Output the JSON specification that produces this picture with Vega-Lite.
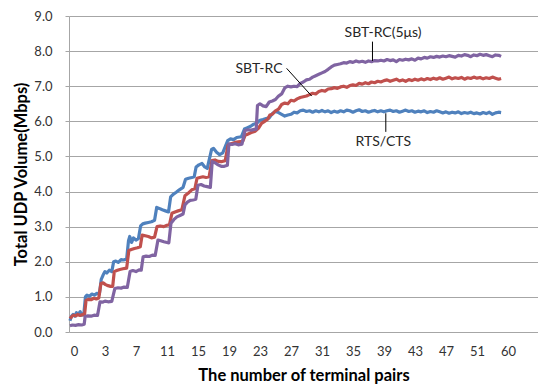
{
  "$schema": "https://vega.github.io/schema/vega-lite/v6.json",
  "width": 469,
  "height": 316,
  "autosize": {"type": "none"},
  "padding": {"left": 69, "top": 16, "right": 0, "bottom": 56},
  "background": "white",
  "config": {"view": {"stroke": null}, "font": "Lato"},
  "datasets": {
    "series": [
      {"s":"RTS/CTS","x":-0.13,"y":0.32},{"s":"RTS/CTS","x":-0.08,"y":0.45},{"s":"RTS/CTS","x":-0.03,"y":0.5},{"s":"RTS/CTS","x":0.03,"y":0.45},{"s":"RTS/CTS","x":0.08,"y":0.55},{"s":"RTS/CTS","x":0.14,"y":0.5},{"s":"RTS/CTS","x":0.2,"y":0.58},{"s":"RTS/CTS","x":0.26,"y":0.48},{"s":"RTS/CTS","x":0.32,"y":0.52},
      {"s":"RTS/CTS","x":0.37,"y":1.0},{"s":"RTS/CTS","x":0.42,"y":1.05},{"s":"RTS/CTS","x":0.5,"y":1.02},{"s":"RTS/CTS","x":0.58,"y":1.08},{"s":"RTS/CTS","x":0.66,"y":1.05},{"s":"RTS/CTS","x":0.74,"y":1.1},{"s":"RTS/CTS","x":0.82,"y":1.08},
      {"s":"RTS/CTS","x":0.88,"y":1.5},{"s":"RTS/CTS","x":0.94,"y":1.62},{"s":"RTS/CTS","x":1.0,"y":1.72},{"s":"RTS/CTS","x":1.06,"y":1.68},{"s":"RTS/CTS","x":1.14,"y":1.76},{"s":"RTS/CTS","x":1.22,"y":1.72},
      {"s":"RTS/CTS","x":1.28,"y":2.0},{"s":"RTS/CTS","x":1.35,"y":2.02},{"s":"RTS/CTS","x":1.43,"y":1.98},{"s":"RTS/CTS","x":1.52,"y":2.06},{"s":"RTS/CTS","x":1.6,"y":2.05},{"s":"RTS/CTS","x":1.7,"y":2.08},
      {"s":"RTS/CTS","x":1.76,"y":2.6},{"s":"RTS/CTS","x":1.8,"y":2.72},{"s":"RTS/CTS","x":1.86,"y":2.55},{"s":"RTS/CTS","x":1.92,"y":2.68},{"s":"RTS/CTS","x":2.0,"y":2.62},{"s":"RTS/CTS","x":2.08,"y":2.66},
      {"s":"RTS/CTS","x":2.15,"y":3.02},{"s":"RTS/CTS","x":2.22,"y":3.08},{"s":"RTS/CTS","x":2.3,"y":3.1},{"s":"RTS/CTS","x":2.4,"y":3.12},{"s":"RTS/CTS","x":2.5,"y":3.14},{"s":"RTS/CTS","x":2.6,"y":3.18},
      {"s":"RTS/CTS","x":2.67,"y":3.55},{"s":"RTS/CTS","x":2.75,"y":3.52},{"s":"RTS/CTS","x":2.85,"y":3.48},{"s":"RTS/CTS","x":2.95,"y":3.45},{"s":"RTS/CTS","x":3.05,"y":3.42},
      {"s":"RTS/CTS","x":3.12,"y":3.85},{"s":"RTS/CTS","x":3.2,"y":3.92},{"s":"RTS/CTS","x":3.3,"y":3.98},{"s":"RTS/CTS","x":3.4,"y":4.05},{"s":"RTS/CTS","x":3.52,"y":4.12},
      {"s":"RTS/CTS","x":3.6,"y":4.35},{"s":"RTS/CTS","x":3.7,"y":4.38},{"s":"RTS/CTS","x":3.8,"y":4.4},{"s":"RTS/CTS","x":3.88,"y":4.42},
      {"s":"RTS/CTS","x":3.94,"y":4.7},{"s":"RTS/CTS","x":4.03,"y":4.76},{"s":"RTS/CTS","x":4.13,"y":4.8},{"s":"RTS/CTS","x":4.22,"y":4.7},{"s":"RTS/CTS","x":4.3,"y":4.66},
      {"s":"RTS/CTS","x":4.44,"y":5.2},{"s":"RTS/CTS","x":4.5,"y":5.23},{"s":"RTS/CTS","x":4.6,"y":5.12},{"s":"RTS/CTS","x":4.7,"y":5.05},{"s":"RTS/CTS","x":4.8,"y":5.1},
      {"s":"RTS/CTS","x":4.96,"y":5.45},{"s":"RTS/CTS","x":5.05,"y":5.5},{"s":"RTS/CTS","x":5.15,"y":5.48},{"s":"RTS/CTS","x":5.25,"y":5.54},{"s":"RTS/CTS","x":5.4,"y":5.56},
      {"s":"RTS/CTS","x":5.5,"y":5.78},{"s":"RTS/CTS","x":5.6,"y":5.82},{"s":"RTS/CTS","x":5.7,"y":5.86},{"s":"RTS/CTS","x":5.8,"y":5.92},{"s":"RTS/CTS","x":5.9,"y":5.95},
      {"s":"RTS/CTS","x":6.0,"y":6.03},{"s":"RTS/CTS","x":6.1,"y":6.05},{"s":"RTS/CTS","x":6.2,"y":6.08},{"s":"RTS/CTS","x":6.3,"y":6.1},{"s":"RTS/CTS","x":6.4,"y":6.22},{"s":"RTS/CTS","x":6.5,"y":6.28},{"s":"RTS/CTS","x":6.6,"y":6.25},{"s":"RTS/CTS","x":6.7,"y":6.2},{"s":"RTS/CTS","x":6.8,"y":6.15},{"s":"RTS/CTS","x":6.9,"y":6.18},
      {"s":"RTS/CTS","x":7.0,"y":6.2},{"s":"RTS/CTS","x":7.1,"y":6.26},{"s":"RTS/CTS","x":7.2,"y":6.24},{"s":"RTS/CTS","x":7.3,"y":6.3},{"s":"RTS/CTS","x":7.4,"y":6.32},{"s":"RTS/CTS","x":7.5,"y":6.28},{"s":"RTS/CTS","x":7.6,"y":6.3},{"s":"RTS/CTS","x":7.7,"y":6.26},{"s":"RTS/CTS","x":7.8,"y":6.3},{"s":"RTS/CTS","x":7.9,"y":6.27},
      {"s":"RTS/CTS","x":8.0,"y":6.31},{"s":"RTS/CTS","x":8.1,"y":6.27},{"s":"RTS/CTS","x":8.2,"y":6.3},{"s":"RTS/CTS","x":8.3,"y":6.25},{"s":"RTS/CTS","x":8.4,"y":6.29},{"s":"RTS/CTS","x":8.5,"y":6.26},{"s":"RTS/CTS","x":8.6,"y":6.3},{"s":"RTS/CTS","x":8.7,"y":6.27},{"s":"RTS/CTS","x":8.8,"y":6.32},{"s":"RTS/CTS","x":8.9,"y":6.3},
      {"s":"RTS/CTS","x":9.0,"y":6.26},{"s":"RTS/CTS","x":9.1,"y":6.3},{"s":"RTS/CTS","x":9.2,"y":6.33},{"s":"RTS/CTS","x":9.3,"y":6.28},{"s":"RTS/CTS","x":9.4,"y":6.3},{"s":"RTS/CTS","x":9.5,"y":6.26},{"s":"RTS/CTS","x":9.6,"y":6.29},{"s":"RTS/CTS","x":9.7,"y":6.31},{"s":"RTS/CTS","x":9.8,"y":6.27},{"s":"RTS/CTS","x":9.9,"y":6.3},
      {"s":"RTS/CTS","x":10.0,"y":6.27},{"s":"RTS/CTS","x":10.1,"y":6.3},{"s":"RTS/CTS","x":10.2,"y":6.32},{"s":"RTS/CTS","x":10.3,"y":6.28},{"s":"RTS/CTS","x":10.4,"y":6.3},{"s":"RTS/CTS","x":10.5,"y":6.26},{"s":"RTS/CTS","x":10.6,"y":6.29},{"s":"RTS/CTS","x":10.7,"y":6.32},{"s":"RTS/CTS","x":10.8,"y":6.28},{"s":"RTS/CTS","x":10.9,"y":6.3},
      {"s":"RTS/CTS","x":11.0,"y":6.26},{"s":"RTS/CTS","x":11.1,"y":6.29},{"s":"RTS/CTS","x":11.2,"y":6.27},{"s":"RTS/CTS","x":11.3,"y":6.3},{"s":"RTS/CTS","x":11.4,"y":6.25},{"s":"RTS/CTS","x":11.5,"y":6.28},{"s":"RTS/CTS","x":11.6,"y":6.26},{"s":"RTS/CTS","x":11.7,"y":6.3},{"s":"RTS/CTS","x":11.8,"y":6.27},{"s":"RTS/CTS","x":11.9,"y":6.24},
      {"s":"RTS/CTS","x":12.0,"y":6.27},{"s":"RTS/CTS","x":12.1,"y":6.23},{"s":"RTS/CTS","x":12.2,"y":6.26},{"s":"RTS/CTS","x":12.3,"y":6.24},{"s":"RTS/CTS","x":12.4,"y":6.27},{"s":"RTS/CTS","x":12.5,"y":6.22},{"s":"RTS/CTS","x":12.6,"y":6.25},{"s":"RTS/CTS","x":12.7,"y":6.23},{"s":"RTS/CTS","x":12.8,"y":6.26},{"s":"RTS/CTS","x":12.9,"y":6.22},
      {"s":"RTS/CTS","x":13.0,"y":6.24},{"s":"RTS/CTS","x":13.1,"y":6.21},{"s":"RTS/CTS","x":13.2,"y":6.25},{"s":"RTS/CTS","x":13.3,"y":6.22},{"s":"RTS/CTS","x":13.4,"y":6.26},{"s":"RTS/CTS","x":13.5,"y":6.2},{"s":"RTS/CTS","x":13.6,"y":6.24},{"s":"RTS/CTS","x":13.7,"y":6.26},{"s":"RTS/CTS","x":13.78,"y":6.25},

      {"s":"SBT-RC","x":-0.13,"y":0.38},{"s":"SBT-RC","x":-0.06,"y":0.45},{"s":"SBT-RC","x":0.0,"y":0.48},{"s":"SBT-RC","x":0.06,"y":0.46},{"s":"SBT-RC","x":0.12,"y":0.5},{"s":"SBT-RC","x":0.2,"y":0.47},{"s":"SBT-RC","x":0.28,"y":0.5},{"s":"SBT-RC","x":0.34,"y":0.48},
      {"s":"SBT-RC","x":0.39,"y":0.9},{"s":"SBT-RC","x":0.46,"y":0.93},{"s":"SBT-RC","x":0.55,"y":0.92},{"s":"SBT-RC","x":0.64,"y":0.96},{"s":"SBT-RC","x":0.72,"y":0.94},{"s":"SBT-RC","x":0.8,"y":0.97},
      {"s":"SBT-RC","x":0.87,"y":1.38},{"s":"SBT-RC","x":0.94,"y":1.4},{"s":"SBT-RC","x":1.02,"y":1.35},{"s":"SBT-RC","x":1.1,"y":1.32},{"s":"SBT-RC","x":1.18,"y":1.3},{"s":"SBT-RC","x":1.25,"y":1.3},
      {"s":"SBT-RC","x":1.3,"y":1.72},{"s":"SBT-RC","x":1.38,"y":1.75},{"s":"SBT-RC","x":1.48,"y":1.78},{"s":"SBT-RC","x":1.58,"y":1.8},{"s":"SBT-RC","x":1.7,"y":1.82},
      {"s":"SBT-RC","x":1.77,"y":2.32},{"s":"SBT-RC","x":1.85,"y":2.35},{"s":"SBT-RC","x":1.95,"y":2.38},{"s":"SBT-RC","x":2.05,"y":2.4},{"s":"SBT-RC","x":2.14,"y":2.43},
      {"s":"SBT-RC","x":2.2,"y":2.76},{"s":"SBT-RC","x":2.3,"y":2.74},{"s":"SBT-RC","x":2.4,"y":2.72},{"s":"SBT-RC","x":2.5,"y":2.68},{"s":"SBT-RC","x":2.6,"y":2.7},
      {"s":"SBT-RC","x":2.68,"y":3.0},{"s":"SBT-RC","x":2.78,"y":3.02},{"s":"SBT-RC","x":2.9,"y":3.0},{"s":"SBT-RC","x":3.0,"y":3.04},{"s":"SBT-RC","x":3.08,"y":3.05},
      {"s":"SBT-RC","x":3.16,"y":3.38},{"s":"SBT-RC","x":3.26,"y":3.42},{"s":"SBT-RC","x":3.36,"y":3.45},{"s":"SBT-RC","x":3.48,"y":3.48},
      {"s":"SBT-RC","x":3.58,"y":3.88},{"s":"SBT-RC","x":3.68,"y":3.95},{"s":"SBT-RC","x":3.8,"y":4.05},{"s":"SBT-RC","x":3.9,"y":4.08},
      {"s":"SBT-RC","x":3.97,"y":4.38},{"s":"SBT-RC","x":4.06,"y":4.4},{"s":"SBT-RC","x":4.16,"y":4.42},{"s":"SBT-RC","x":4.26,"y":4.4},{"s":"SBT-RC","x":4.36,"y":4.42},
      {"s":"SBT-RC","x":4.45,"y":4.88},{"s":"SBT-RC","x":4.55,"y":4.9},{"s":"SBT-RC","x":4.65,"y":4.86},{"s":"SBT-RC","x":4.75,"y":4.85},{"s":"SBT-RC","x":4.88,"y":4.88},
      {"s":"SBT-RC","x":4.97,"y":5.32},{"s":"SBT-RC","x":5.07,"y":5.36},{"s":"SBT-RC","x":5.2,"y":5.4},{"s":"SBT-RC","x":5.35,"y":5.42},{"s":"SBT-RC","x":5.45,"y":5.44},
      {"s":"SBT-RC","x":5.52,"y":5.6},{"s":"SBT-RC","x":5.62,"y":5.64},{"s":"SBT-RC","x":5.72,"y":5.68},{"s":"SBT-RC","x":5.85,"y":5.72},{"s":"SBT-RC","x":5.95,"y":5.8},
      {"s":"SBT-RC","x":6.05,"y":5.94},{"s":"SBT-RC","x":6.15,"y":6.0},{"s":"SBT-RC","x":6.25,"y":6.06},{"s":"SBT-RC","x":6.32,"y":6.18},{"s":"SBT-RC","x":6.4,"y":6.2},{"s":"SBT-RC","x":6.5,"y":6.3},{"s":"SBT-RC","x":6.6,"y":6.35},{"s":"SBT-RC","x":6.7,"y":6.48},{"s":"SBT-RC","x":6.8,"y":6.52},{"s":"SBT-RC","x":6.9,"y":6.5},
      {"s":"SBT-RC","x":7.0,"y":6.6},{"s":"SBT-RC","x":7.1,"y":6.58},{"s":"SBT-RC","x":7.2,"y":6.64},{"s":"SBT-RC","x":7.3,"y":6.68},{"s":"SBT-RC","x":7.4,"y":6.7},{"s":"SBT-RC","x":7.5,"y":6.72},{"s":"SBT-RC","x":7.6,"y":6.76},{"s":"SBT-RC","x":7.7,"y":6.8},{"s":"SBT-RC","x":7.8,"y":6.78},{"s":"SBT-RC","x":7.9,"y":6.85},
      {"s":"SBT-RC","x":8.0,"y":6.88},{"s":"SBT-RC","x":8.1,"y":6.86},{"s":"SBT-RC","x":8.2,"y":6.92},{"s":"SBT-RC","x":8.3,"y":6.93},{"s":"SBT-RC","x":8.4,"y":6.96},{"s":"SBT-RC","x":8.5,"y":6.94},{"s":"SBT-RC","x":8.6,"y":6.98},{"s":"SBT-RC","x":8.7,"y":7.0},{"s":"SBT-RC","x":8.8,"y":6.97},{"s":"SBT-RC","x":8.9,"y":7.02},
      {"s":"SBT-RC","x":9.0,"y":7.04},{"s":"SBT-RC","x":9.1,"y":7.02},{"s":"SBT-RC","x":9.2,"y":7.08},{"s":"SBT-RC","x":9.3,"y":7.06},{"s":"SBT-RC","x":9.4,"y":7.1},{"s":"SBT-RC","x":9.5,"y":7.07},{"s":"SBT-RC","x":9.6,"y":7.12},{"s":"SBT-RC","x":9.7,"y":7.1},{"s":"SBT-RC","x":9.8,"y":7.14},{"s":"SBT-RC","x":9.9,"y":7.12},
      {"s":"SBT-RC","x":10.0,"y":7.16},{"s":"SBT-RC","x":10.1,"y":7.18},{"s":"SBT-RC","x":10.2,"y":7.14},{"s":"SBT-RC","x":10.3,"y":7.17},{"s":"SBT-RC","x":10.4,"y":7.2},{"s":"SBT-RC","x":10.5,"y":7.15},{"s":"SBT-RC","x":10.6,"y":7.18},{"s":"SBT-RC","x":10.7,"y":7.14},{"s":"SBT-RC","x":10.8,"y":7.19},{"s":"SBT-RC","x":10.9,"y":7.16},
      {"s":"SBT-RC","x":11.0,"y":7.2},{"s":"SBT-RC","x":11.1,"y":7.17},{"s":"SBT-RC","x":11.2,"y":7.21},{"s":"SBT-RC","x":11.3,"y":7.18},{"s":"SBT-RC","x":11.4,"y":7.22},{"s":"SBT-RC","x":11.5,"y":7.19},{"s":"SBT-RC","x":11.6,"y":7.23},{"s":"SBT-RC","x":11.7,"y":7.2},{"s":"SBT-RC","x":11.8,"y":7.24},{"s":"SBT-RC","x":11.9,"y":7.2},
      {"s":"SBT-RC","x":12.0,"y":7.23},{"s":"SBT-RC","x":12.1,"y":7.26},{"s":"SBT-RC","x":12.2,"y":7.21},{"s":"SBT-RC","x":12.3,"y":7.24},{"s":"SBT-RC","x":12.4,"y":7.22},{"s":"SBT-RC","x":12.5,"y":7.25},{"s":"SBT-RC","x":12.6,"y":7.2},{"s":"SBT-RC","x":12.7,"y":7.24},{"s":"SBT-RC","x":12.8,"y":7.22},{"s":"SBT-RC","x":12.9,"y":7.26},
      {"s":"SBT-RC","x":13.0,"y":7.23},{"s":"SBT-RC","x":13.1,"y":7.25},{"s":"SBT-RC","x":13.2,"y":7.21},{"s":"SBT-RC","x":13.3,"y":7.24},{"s":"SBT-RC","x":13.4,"y":7.22},{"s":"SBT-RC","x":13.5,"y":7.26},{"s":"SBT-RC","x":13.6,"y":7.23},{"s":"SBT-RC","x":13.7,"y":7.2},{"s":"SBT-RC","x":13.78,"y":7.22},

      {"s":"SBT-RC(5μs)","x":-0.13,"y":0.18},{"s":"SBT-RC(5μs)","x":-0.05,"y":0.2},{"s":"SBT-RC(5μs)","x":0.05,"y":0.19},{"s":"SBT-RC(5μs)","x":0.15,"y":0.21},{"s":"SBT-RC(5μs)","x":0.25,"y":0.2},{"s":"SBT-RC(5μs)","x":0.33,"y":0.22},
      {"s":"SBT-RC(5μs)","x":0.36,"y":0.44},{"s":"SBT-RC(5μs)","x":0.45,"y":0.46},{"s":"SBT-RC(5μs)","x":0.55,"y":0.45},{"s":"SBT-RC(5μs)","x":0.65,"y":0.48},{"s":"SBT-RC(5μs)","x":0.76,"y":0.47},
      {"s":"SBT-RC(5μs)","x":0.84,"y":0.86},{"s":"SBT-RC(5μs)","x":0.92,"y":0.85},{"s":"SBT-RC(5μs)","x":1.0,"y":0.88},{"s":"SBT-RC(5μs)","x":1.1,"y":0.86},{"s":"SBT-RC(5μs)","x":1.22,"y":0.87},
      {"s":"SBT-RC(5μs)","x":1.32,"y":1.24},{"s":"SBT-RC(5μs)","x":1.42,"y":1.26},{"s":"SBT-RC(5μs)","x":1.52,"y":1.25},{"s":"SBT-RC(5μs)","x":1.62,"y":1.28},{"s":"SBT-RC(5μs)","x":1.72,"y":1.27},
      {"s":"SBT-RC(5μs)","x":1.81,"y":1.72},{"s":"SBT-RC(5μs)","x":1.9,"y":1.75},{"s":"SBT-RC(5μs)","x":2.0,"y":1.72},{"s":"SBT-RC(5μs)","x":2.1,"y":1.77},{"s":"SBT-RC(5μs)","x":2.17,"y":1.76},
      {"s":"SBT-RC(5μs)","x":2.23,"y":2.14},{"s":"SBT-RC(5μs)","x":2.33,"y":2.16},{"s":"SBT-RC(5μs)","x":2.43,"y":2.15},{"s":"SBT-RC(5μs)","x":2.53,"y":2.19},{"s":"SBT-RC(5μs)","x":2.62,"y":2.18},
      {"s":"SBT-RC(5μs)","x":2.71,"y":2.62},{"s":"SBT-RC(5μs)","x":2.8,"y":2.6},{"s":"SBT-RC(5μs)","x":2.9,"y":2.57},{"s":"SBT-RC(5μs)","x":3.0,"y":2.55},{"s":"SBT-RC(5μs)","x":3.06,"y":2.54},
      {"s":"SBT-RC(5μs)","x":3.13,"y":3.1},{"s":"SBT-RC(5μs)","x":3.22,"y":3.2},{"s":"SBT-RC(5μs)","x":3.32,"y":3.28},{"s":"SBT-RC(5μs)","x":3.42,"y":3.32},{"s":"SBT-RC(5μs)","x":3.52,"y":3.36},
      {"s":"SBT-RC(5μs)","x":3.58,"y":3.62},{"s":"SBT-RC(5μs)","x":3.66,"y":3.7},{"s":"SBT-RC(5μs)","x":3.75,"y":3.75},{"s":"SBT-RC(5μs)","x":3.84,"y":3.76},{"s":"SBT-RC(5μs)","x":3.93,"y":3.78},
      {"s":"SBT-RC(5μs)","x":4.0,"y":4.18},{"s":"SBT-RC(5μs)","x":4.1,"y":4.2},{"s":"SBT-RC(5μs)","x":4.2,"y":4.16},{"s":"SBT-RC(5μs)","x":4.3,"y":4.14},{"s":"SBT-RC(5μs)","x":4.4,"y":4.12},
      {"s":"SBT-RC(5μs)","x":4.46,"y":4.85},{"s":"SBT-RC(5μs)","x":4.55,"y":4.82},{"s":"SBT-RC(5μs)","x":4.65,"y":4.76},{"s":"SBT-RC(5μs)","x":4.75,"y":4.72},{"s":"SBT-RC(5μs)","x":4.85,"y":4.72},{"s":"SBT-RC(5μs)","x":4.95,"y":4.75},
      {"s":"SBT-RC(5μs)","x":5.0,"y":5.36},{"s":"SBT-RC(5μs)","x":5.1,"y":5.34},{"s":"SBT-RC(5μs)","x":5.2,"y":5.36},{"s":"SBT-RC(5μs)","x":5.3,"y":5.33},{"s":"SBT-RC(5μs)","x":5.42,"y":5.35},
      {"s":"SBT-RC(5μs)","x":5.52,"y":5.74},{"s":"SBT-RC(5μs)","x":5.62,"y":5.76},{"s":"SBT-RC(5μs)","x":5.72,"y":5.75},{"s":"SBT-RC(5μs)","x":5.82,"y":5.77},{"s":"SBT-RC(5μs)","x":5.88,"y":5.78},
      {"s":"SBT-RC(5μs)","x":5.92,"y":6.45},{"s":"SBT-RC(5μs)","x":6.0,"y":6.5},{"s":"SBT-RC(5μs)","x":6.1,"y":6.44},{"s":"SBT-RC(5μs)","x":6.2,"y":6.42},{"s":"SBT-RC(5μs)","x":6.3,"y":6.55},{"s":"SBT-RC(5μs)","x":6.4,"y":6.58},{"s":"SBT-RC(5μs)","x":6.5,"y":6.62},{"s":"SBT-RC(5μs)","x":6.6,"y":6.72},{"s":"SBT-RC(5μs)","x":6.7,"y":6.78},{"s":"SBT-RC(5μs)","x":6.8,"y":6.95},{"s":"SBT-RC(5μs)","x":6.9,"y":7.0},
      {"s":"SBT-RC(5μs)","x":7.0,"y":6.98},{"s":"SBT-RC(5μs)","x":7.1,"y":7.0},{"s":"SBT-RC(5μs)","x":7.2,"y":6.99},{"s":"SBT-RC(5μs)","x":7.3,"y":7.08},{"s":"SBT-RC(5μs)","x":7.4,"y":7.12},{"s":"SBT-RC(5μs)","x":7.5,"y":7.18},{"s":"SBT-RC(5μs)","x":7.6,"y":7.2},{"s":"SBT-RC(5μs)","x":7.7,"y":7.26},{"s":"SBT-RC(5μs)","x":7.8,"y":7.3},{"s":"SBT-RC(5μs)","x":7.9,"y":7.34},
      {"s":"SBT-RC(5μs)","x":8.0,"y":7.38},{"s":"SBT-RC(5μs)","x":8.1,"y":7.42},{"s":"SBT-RC(5μs)","x":8.2,"y":7.48},{"s":"SBT-RC(5μs)","x":8.3,"y":7.55},{"s":"SBT-RC(5μs)","x":8.4,"y":7.6},{"s":"SBT-RC(5μs)","x":8.5,"y":7.62},{"s":"SBT-RC(5μs)","x":8.6,"y":7.64},{"s":"SBT-RC(5μs)","x":8.7,"y":7.67},{"s":"SBT-RC(5μs)","x":8.8,"y":7.66},{"s":"SBT-RC(5μs)","x":8.9,"y":7.7},
      {"s":"SBT-RC(5μs)","x":9.0,"y":7.68},{"s":"SBT-RC(5μs)","x":9.1,"y":7.72},{"s":"SBT-RC(5μs)","x":9.2,"y":7.69},{"s":"SBT-RC(5μs)","x":9.3,"y":7.71},{"s":"SBT-RC(5μs)","x":9.4,"y":7.68},{"s":"SBT-RC(5μs)","x":9.5,"y":7.72},{"s":"SBT-RC(5μs)","x":9.6,"y":7.7},{"s":"SBT-RC(5μs)","x":9.7,"y":7.73},{"s":"SBT-RC(5μs)","x":9.8,"y":7.72},{"s":"SBT-RC(5μs)","x":9.9,"y":7.74},
      {"s":"SBT-RC(5μs)","x":10.0,"y":7.72},{"s":"SBT-RC(5μs)","x":10.1,"y":7.76},{"s":"SBT-RC(5μs)","x":10.2,"y":7.73},{"s":"SBT-RC(5μs)","x":10.3,"y":7.75},{"s":"SBT-RC(5μs)","x":10.4,"y":7.7},{"s":"SBT-RC(5μs)","x":10.5,"y":7.76},{"s":"SBT-RC(5μs)","x":10.6,"y":7.74},{"s":"SBT-RC(5μs)","x":10.7,"y":7.77},{"s":"SBT-RC(5μs)","x":10.8,"y":7.75},{"s":"SBT-RC(5μs)","x":10.9,"y":7.78},
      {"s":"SBT-RC(5μs)","x":11.0,"y":7.74},{"s":"SBT-RC(5μs)","x":11.1,"y":7.8},{"s":"SBT-RC(5μs)","x":11.2,"y":7.78},{"s":"SBT-RC(5μs)","x":11.3,"y":7.82},{"s":"SBT-RC(5μs)","x":11.4,"y":7.8},{"s":"SBT-RC(5μs)","x":11.5,"y":7.84},{"s":"SBT-RC(5μs)","x":11.6,"y":7.82},{"s":"SBT-RC(5μs)","x":11.7,"y":7.85},{"s":"SBT-RC(5μs)","x":11.8,"y":7.83},{"s":"SBT-RC(5μs)","x":11.9,"y":7.86},
      {"s":"SBT-RC(5μs)","x":12.0,"y":7.84},{"s":"SBT-RC(5μs)","x":12.1,"y":7.87},{"s":"SBT-RC(5μs)","x":12.2,"y":7.85},{"s":"SBT-RC(5μs)","x":12.3,"y":7.83},{"s":"SBT-RC(5μs)","x":12.4,"y":7.88},{"s":"SBT-RC(5μs)","x":12.5,"y":7.86},{"s":"SBT-RC(5μs)","x":12.6,"y":7.9},{"s":"SBT-RC(5μs)","x":12.7,"y":7.88},{"s":"SBT-RC(5μs)","x":12.8,"y":7.84},{"s":"SBT-RC(5μs)","x":12.9,"y":7.89},
      {"s":"SBT-RC(5μs)","x":13.0,"y":7.87},{"s":"SBT-RC(5μs)","x":13.1,"y":7.91},{"s":"SBT-RC(5μs)","x":13.2,"y":7.88},{"s":"SBT-RC(5μs)","x":13.3,"y":7.9},{"s":"SBT-RC(5μs)","x":13.4,"y":7.87},{"s":"SBT-RC(5μs)","x":13.5,"y":7.84},{"s":"SBT-RC(5μs)","x":13.6,"y":7.89},{"s":"SBT-RC(5μs)","x":13.7,"y":7.88},{"s":"SBT-RC(5μs)","x":13.78,"y":7.85}
    ],
    "leaders": [
      {"x1": 9.63, "y1": 8.27, "x2": 9.63, "y2": 7.72},
      {"x1": 6.86, "y1": 7.51, "x2": 7.67, "y2": 6.72},
      {"x1": 10.06, "y1": 6.23, "x2": 10.06, "y2": 5.7}
    ],
    "labels": [
      {"t": "SBT-RC(5μs)", "x": 9.97, "y": 8.52},
      {"t": "SBT-RC", "x": 5.97, "y": 7.49},
      {"t": "RTS/CTS", "x": 9.98, "y": 5.42}
    ]
  },
  "layer": [
    {
      "data": {"name": "series"},
      "mark": {"type": "line", "strokeWidth": 3.2, "strokeJoin": "round"},
      "encoding": {
        "x": {
          "field": "x", "type": "quantitative",
          "scale": {"domain": [-0.16, 14.97], "nice": false, "zero": false},
          "axis": {
            "values": [0,1,2,3,4,5,6,7,8,9,10,11,12,13,14],
            "tickCount": 30,
            "labelExpr": "['0','3','7','11','15','19','23','27','31','35','39','43','47','51','60'][datum.value]",
            "labelOverlap": false,
            "grid": false, "ticks": false, "domain": false,
            "labelFont": "Lato", "labelFontSize": 13, "labelColor": "#333333", "labelPadding": 13,
            "title": "The number of terminal pairs",
            "titleFont": "Lato", "titleFontSize": 16.5, "titleFontWeight": "bold", "titleColor": "#000000", "titlePadding": 9
          }
        },
        "y": {
          "field": "y", "type": "quantitative",
          "scale": {"domain": [0, 9], "nice": false},
          "axis": {
            "values": [0,1,2,3,4,5,6,7,8,9], "format": ".1f",
            "tickCount": 20,
            "labelOverlap": false,
            "grid": true, "gridColor": "#a6a6a6", "gridWidth": 1,
            "domainColor": "#a6a6a6", "tickColor": "#a6a6a6", "tickSize": 4,
            "labelFont": "Lato", "labelFontSize": 13, "labelColor": "#333333", "labelPadding": 13,
            "title": "Total UDP Volume(Mbps)",
            "titleFont": "Lato", "titleFontSize": 16.5, "titleFontWeight": "bold", "titleColor": "#000000", "titlePadding": 4
          }
        },
        "color": {
          "field": "s", "type": "nominal",
          "scale": {"domain": ["RTS/CTS", "SBT-RC", "SBT-RC(5μs)"], "range": ["#4F81BD", "#C0504D", "#8064A2"]},
          "legend": null
        }
      }
    },
    {
      "data": {"name": "leaders"},
      "mark": {"type": "rule", "color": "#000000", "strokeWidth": 1},
      "encoding": {
        "x": {"field": "x1", "type": "quantitative"},
        "y": {"field": "y1", "type": "quantitative"},
        "x2": {"field": "x2"},
        "y2": {"field": "y2"}
      }
    },
    {
      "data": {"name": "labels"},
      "mark": {"type": "text", "font": "Lato", "fontSize": 14, "color": "#262626", "align": "center", "baseline": "middle"},
      "encoding": {
        "x": {"field": "x", "type": "quantitative"},
        "y": {"field": "y", "type": "quantitative"},
        "text": {"field": "t"}
      }
    }
  ]
}
